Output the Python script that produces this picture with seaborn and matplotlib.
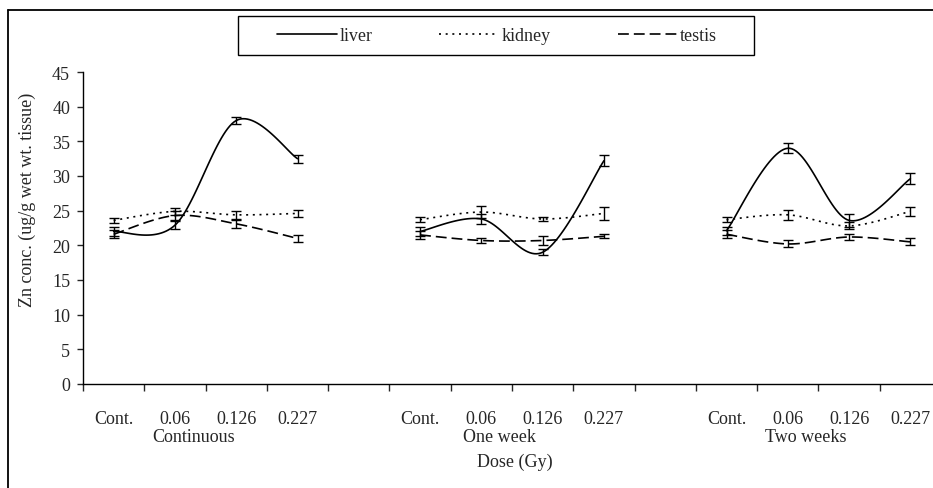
import numpy as np
import pandas as pd
import matplotlib
matplotlib.use('Agg')
import matplotlib.pyplot as plt
from matplotlib.lines import Line2D
from matplotlib.patches import Rectangle
import seaborn as sns

# Zn concentration (ug/g wet wt. tissue)
doses = ['Cont.', '0.06', '0.126', '0.227']
groups = ['Continuous', 'One week', 'Two weeks']
tissues = ['liver', 'kidney', 'testis']

liver_mean = [22.0, 22.9, 38.0, 32.5, 22.0, 23.8, 19.0, 32.2, 22.1, 34.0, 23.6, 29.6]
liver_err = [0.6, 0.6, 0.5, 0.6, 0.6, 0.7, 0.4, 0.8, 0.6, 0.7, 0.9, 0.8]
kidney_mean = [23.6, 24.9, 24.4, 24.6, 23.7, 24.8, 23.8, 24.6, 23.7, 24.4, 22.8, 24.9]
kidney_err = [0.4, 0.5, 0.6, 0.5, 0.4, 0.9, 0.3, 1.0, 0.4, 0.7, 0.5, 0.7]
testis_mean = [21.6, 24.3, 23.1, 21.0, 21.5, 20.7, 20.7, 21.3, 21.6, 20.2, 21.2, 20.5]
testis_err = [0.6, 0.7, 0.6, 0.5, 0.6, 0.3, 0.7, 0.3, 0.6, 0.5, 0.4, 0.5]

means = {'liver': liver_mean, 'kidney': kidney_mean, 'testis': testis_mean}
errs = {'liver': liver_err, 'kidney': kidney_err, 'testis': testis_err}

sns.set_style('ticks')
plt.rcParams['font.family'] = ['Liberation Serif', 'DejaVu Serif']
FS = 13

W, H = 933, 489
fig = plt.figure(figsize=(W / 100, H / 100), dpi=100)
# plot area: x from 83px to 941px (runs past the right edge), y 73px..385px
ax = fig.add_axes([83 / W, 1 - 385 / H, 858 / W, 312 / H])

# category slots: 4 doses per group, one empty slot between groups
xpos = [g * 5 + i for g in range(len(groups)) for i in range(len(doses))]


def smooth(xs, ys, n=30):
    # Excel-style smoothed line (Bezier through points, Catmull-Rom controls)
    P = np.column_stack([xs, ys]).astype(float)
    out = []
    for k in range(len(P) - 1):
        p0 = P[k - 1] if k > 0 else P[k]
        p1, p2 = P[k], P[k + 1]
        p3 = P[k + 2] if k + 2 < len(P) else P[k + 1]
        c1 = p1 + (p2 - p0) / 6
        c2 = p2 - (p3 - p1) / 6
        t = np.linspace(0, 1, n)[:, None]
        seg = (1 - t) ** 3 * p1 + 3 * (1 - t) ** 2 * t * c1 + 3 * (1 - t) * t ** 2 * c2 + t ** 3 * p2
        out.append(seg if k == 0 else seg[1:])
    return np.vstack(out)


rows = []
for tis in tissues:
    for g, grp in enumerate(groups):
        xs = xpos[g * 4:(g + 1) * 4]
        ys = means[tis][g * 4:(g + 1) * 4]
        for px, py in smooth(xs, ys):
            rows.append({'x': px, 'y': py, 'tissue': tis, 'group': grp})
curves = pd.DataFrame(rows)

dash_map = {'liver': '', 'kidney': (1.2, 2.8), 'testis': (6.5, 3.0)}
sns.lineplot(data=curves, x='x', y='y', style='tissue', units='group',
             estimator=None, sort=False, color='black', dashes=dash_map,
             linewidth=1.2, legend=False, ax=ax)

for tis in tissues:
    ax.errorbar(xpos, means[tis], yerr=errs[tis], fmt='none', ecolor='black',
                elinewidth=1.0, capsize=3.5, capthick=1.0)

# axes
ax.set_xlim(-0.5, 13.5)
ax.set_ylim(0, 45)
ax.set_yticks(range(0, 46, 5))
ax.tick_params(axis='y', labelsize=FS, length=4.3, width=1.0, pad=5, direction='out')
ax.set_xticks(np.arange(-0.5, 14, 1))
ax.set_xticklabels([])
ax.tick_params(axis='x', which='major', length=5, width=1.0, direction='out')
ax.set_xticks(xpos, labels=doses * len(groups), minor=True)
ax.tick_params(axis='x', which='minor', length=0, pad=19, labelsize=FS)
for s in ['top', 'right']:
    ax.spines[s].set_visible(False)
for s in ['left', 'bottom']:
    ax.spines[s].set_linewidth(1.0)
    ax.spines[s].set_color('black')
ax.set_xlabel('')
ax.set_ylabel('')

# group labels under the dose labels
for g, grp in enumerate(groups):
    gx = np.mean(xpos[g * 4:(g + 1) * 4]) - 0.2
    ax.annotate(grp, xy=(gx, 0), xycoords=('data', 'axes fraction'),
                xytext=(0, -38), textcoords='offset points',
                ha='center', va='center', fontsize=FS)

fig.text(515 / W, 1 - 462 / H, 'Dose (Gy)', ha='center', va='center', fontsize=FS)
fig.text(27 / W, 1 - 200 / H, 'Zn conc. (ug/g wet wt. tissue)', rotation=90,
         ha='center', va='center', fontsize=FS)

# legend with its own box
handles = [Line2D([], [], color='black', lw=1.2, linestyle='-'),
           Line2D([], [], color='black', lw=1.2, dashes=dash_map['kidney']),
           Line2D([], [], color='black', lw=1.2, dashes=dash_map['testis'])]
fig.legend(handles, tissues, loc='center', bbox_to_anchor=(497 / W, 1 - 36.5 / H),
           ncol=3, frameon=False, fontsize=FS, handlelength=3.3,
           handletextpad=0.15, columnspacing=3.7)
fig.add_artist(Rectangle((238 / W, 1 - 56 / H), 516 / W, 39 / H, transform=fig.transFigure,
                         fill=False, edgecolor='black', linewidth=1.0))

# outer chart frame (left and top edges visible)
fig.add_artist(Line2D([8 / W, 8 / W], [0, 1 - 10.5 / H], transform=fig.transFigure,
                      color='black', linewidth=1.3))
fig.add_artist(Line2D([8 / W, 1], [1 - 10.5 / H, 1 - 10.5 / H], transform=fig.transFigure,
                      color='black', linewidth=1.3))

fig.savefig('out.png', dpi=100)
